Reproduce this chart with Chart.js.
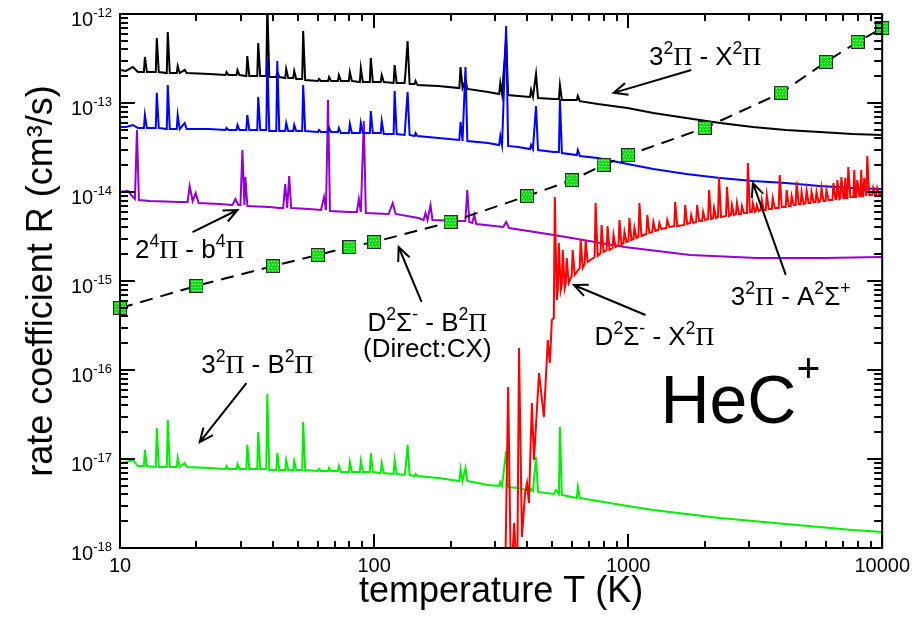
<!DOCTYPE html>
<html>
<head>
<meta charset="utf-8">
<title>HeC+ rate coefficients</title>
<script src="https://cdn.jsdelivr.net/npm/chart.js@4.4.1/dist/chart.umd.min.js"></script>
<style>
  html, body { margin: 0; padding: 0; background: #fff; }
</style>
</head>
<body>
<canvas id="rateChart" width="916" height="622"></canvas>
<script>
// temperature grid (K) shared by the three 3^2Pi curves (same resonance positions)
const tempGrid = [
  10, 10.56, 11.24, 11.76, 12.42, 12.53, 12.76, 13.83, 13.96, 14.21,
  15.28, 15.42, 15.70, 16.72, 16.87, 17.18, 17.97, 18.30, 22.5, 26.01,
  26.25, 26.73, 28.74, 29.0, 29.53, 31.42, 31.7, 32.28, 34.69, 35.0,
  35.64, 37.66, 38.0, 38.69, 41.23, 41.6, 42.36, 44.70, 45.1, 45.92,
  48.06, 48.5, 49.38, 52.13, 52.6, 53.56, 60.15, 60.7, 61.80, 65.90,
  66.5, 67.71, 72.05, 72.7, 74.02, 79.58, 80.3, 81.76, 87.90, 88.7,
  90.31, 96.23, 97.1, 98.87, 106.2, 107.2, 109.2, 119.4, 120.5, 122.7,
  131.9, 133.1, 135.5, 138.0, 144.4, 145.7, 148.3, 179, 216.6, 219,
  223, 229, 232.9, 281, 310.8, 314, 319, 331, 337.1, 369,
  411, 415, 422, 434, 441.8, 510, 520, 534, 539, 548.7,
  628.3, 634, 645.5, 759, 995, 1257, 1693, 2301, 3099, 4172,
  5670, 7636, 10000
];

// 3^2Pi - X^2Pi (black)
const rate3PiX = [
  2.35e-13, 2.29e-13, 2.54e-13, 2.23e-13, 2.23e-13, 3.29e-13, 2.23e-13, 2.23e-13, 5.37e-13, 2.23e-13,
  2.17e-13, 6.28e-13, 2.17e-13, 2.17e-13, 2.60e-13, 2.17e-13, 2.35e-13, 2.17e-13, 2.12e-13, 2.06e-13,
  2.23e-13, 2.06e-13, 2.06e-13, 2.35e-13, 2.06e-13, 2.01e-13, 3.37e-13, 2.01e-13, 2.01e-13, 4.72e-13,
  2.01e-13, 2.01e-13, 1.3e-12, 1.96e-13, 1.96e-13, 2.23e-13, 1.96e-13, 1.91e-13, 2.41e-13, 1.91e-13,
  1.91e-13, 2.29e-13, 1.86e-13, 1.86e-13, 6.44e-13, 1.81e-13, 1.77e-13, 1.86e-13, 1.77e-13, 1.77e-13,
  1.96e-13, 1.77e-13, 1.77e-13, 2.06e-13, 1.77e-13, 1.77e-13, 2.23e-13, 1.77e-13, 1.72e-13, 2.47e-13,
  1.72e-13, 1.72e-13, 3.20e-13, 1.72e-13, 1.72e-13, 2.06e-13, 1.72e-13, 1.68e-13, 2.67e-13, 1.68e-13,
  1.68e-13, 2.29e-13, 4.97e-13, 1.64e-13, 1.64e-13, 1.77e-13, 1.59e-13, 1.55e-13, 1.47e-13, 2.54e-13,
  1.47e-13, 1.81e-13, 1.44e-13, 1.33e-13, 1.26e-13, 1.68e-13, 1.26e-13, 5.37e-13, 1.23e-13, 1.20e-13,
  1.17e-13, 1.40e-13, 1.17e-13, 2.12e-13, 1.14e-13, 1.11e-13, 1.11e-13, 1.11e-13, 1.59e-13, 1.08e-13,
  1.08e-13, 1.20e-13, 1.05e-13, 9.74e-14, 8.79e-14, 7.72e-14, 6.78e-14, 5.96e-14, 5.37e-14, 4.97e-14,
  4.72e-14, 4.48e-14, 4.37e-14
];

// 3^2Pi - A^2Sigma+ (blue)
const rate3PiA = [
  5.37e-14, 5.37e-14, 5.66e-14, 5.24e-14, 5.24e-14, 7.33e-14, 5.24e-14, 5.24e-14, 1.30e-13, 5.24e-14,
  5.10e-14, 1.59e-13, 5.10e-14, 5.10e-14, 7.33e-14, 5.10e-14, 5.96e-14, 5.10e-14, 5.10e-14, 4.97e-14,
  5.24e-14, 4.97e-14, 4.97e-14, 5.66e-14, 4.97e-14, 4.97e-14, 7.33e-14, 4.97e-14, 4.97e-14, 1.17e-13,
  4.97e-14, 4.97e-14, 3.12e-13, 4.84e-14, 4.84e-14, 2.96e-13, 4.84e-14, 4.84e-14, 5.96e-14, 4.84e-14,
  4.84e-14, 5.66e-14, 4.84e-14, 4.84e-14, 1.59e-13, 4.84e-14, 4.72e-14, 4.97e-14, 4.72e-14, 4.72e-14,
  5.24e-14, 4.72e-14, 4.72e-14, 5.24e-14, 4.60e-14, 4.60e-14, 5.81e-14, 4.60e-14, 4.60e-14, 5.96e-14,
  4.60e-14, 4.60e-14, 8.13e-14, 4.60e-14, 4.60e-14, 6.28e-14, 4.48e-14, 4.48e-14, 1.36e-13, 4.48e-14,
  4.37e-14, 6.28e-14, 1.33e-13, 4.37e-14, 4.26e-14, 4.60e-14, 4.26e-14, 4.04e-14, 3.84e-14, 6.12e-14,
  3.74e-14, 2.54e-13, 3.74e-14, 3.55e-14, 3.37e-14, 4.26e-14, 3.37e-14, 7.33e-13, 3.29e-14, 3.20e-14,
  3.04e-14, 3.37e-14, 3.04e-14, 9.25e-14, 2.96e-14, 2.81e-14, 2.81e-14, 2.81e-14, 1.11e-13, 2.74e-14,
  2.60e-14, 2.96e-14, 2.54e-14, 2.41e-14, 2.06e-14, 1.81e-14, 1.59e-14, 1.44e-14, 1.33e-14, 1.26e-14,
  1.17e-14, 1.11e-14, 1.08e-14
];

// 3^2Pi - B^2Pi (green)
const rate3PiB = [
  9.02e-18, 9.25e-18, 9.74e-18, 8.34e-18, 8.34e-18, 1.26e-17, 8.34e-18, 8.13e-18, 2.23e-17, 8.13e-18,
  8.13e-18, 2.74e-17, 8.13e-18, 8.13e-18, 1.03e-17, 8.13e-18, 9.02e-18, 8.13e-18, 7.92e-18, 7.72e-18,
  8.34e-18, 7.72e-18, 7.72e-18, 8.79e-18, 7.72e-18, 7.72e-18, 1.44e-17, 7.72e-18, 7.72e-18, 2.01e-17,
  7.72e-18, 7.72e-18, 5.37e-17, 7.52e-18, 7.52e-18, 1.17e-17, 7.52e-18, 7.52e-18, 9.74e-18, 7.52e-18,
  7.52e-18, 9.49e-18, 7.52e-18, 7.52e-18, 2.60e-17, 7.52e-18, 7.33e-18, 7.72e-18, 7.33e-18, 7.33e-18,
  7.92e-18, 7.33e-18, 7.33e-18, 8.34e-18, 7.14e-18, 7.14e-18, 9.25e-18, 7.14e-18, 7.14e-18, 9.49e-18,
  7.14e-18, 7.14e-18, 1.17e-17, 7.14e-18, 6.96e-18, 9.02e-18, 6.96e-18, 6.78e-18, 9.74e-18, 6.78e-18,
  6.61e-18, 7.92e-18, 1.44e-17, 6.61e-18, 6.44e-18, 6.78e-18, 6.44e-18, 6.12e-18, 5.66e-18, 7.72e-18,
  5.66e-18, 7.92e-18, 5.66e-18, 5.10e-18, 4.97e-18, 5.52e-18, 4.97e-18, 1.23e-17, 4.84e-18, 4.72e-18,
  4.37e-18, 4.60e-18, 4.37e-18, 1.05e-17, 4.26e-18, 4.04e-18, 4.48e-18, 4.04e-18, 2.29e-17, 3.94e-18,
  3.65e-18, 4.84e-18, 3.65e-18, 3.37e-18, 2.96e-18, 2.67e-18, 2.41e-18, 2.17e-18, 2.01e-18, 1.86e-18,
  1.72e-18, 1.59e-18, 1.51e-18
];

// 2^4Pi - b^4Pi (violet)
const tempViolet = [
  10, 10.75, 11.24, 11.45, 11.66, 11.87, 13.11, 17.18, 18.46, 18.8,
  19.32, 19.85, 20.39, 24.65, 27.71, 28.47, 29.25, 29.79, 30.32, 30.88,
  31.15, 31.72, 38.69, 42.34, 43.89, 44.69, 45.51, 46.34, 47.18, 55.5,
  61.83, 63.53, 64.69, 65.87, 67.07, 79.6, 85.56, 87.12, 88.7, 91.14,
  92.8, 114.2, 118.4, 121.6, 149.6, 156.6, 159.4, 162.3, 166.8, 169.8,
  214.7, 228.7, 232.8, 237.1, 243.6, 248, 252.6, 322.2, 331.1, 340,
  510.4, 968, 1755, 3213, 5880, 10000
];
const rateViolet = [
  1.0e-14, 1.03e-14, 8.79e-15, 8.34e-15, 4.97e-14, 8.13e-15, 7.92e-15, 7.72e-15, 7.72e-15, 1.17e-14,
  7.92e-15, 9.74e-15, 7.52e-15, 7.33e-15, 7.14e-15, 8.34e-15, 7.14e-15, 7.14e-15, 2.96e-14, 7.14e-15,
  1.47e-14, 6.96e-15, 6.78e-15, 6.61e-15, 6.61e-15, 1.23e-14, 6.61e-15, 1.51e-14, 6.61e-15, 6.44e-15,
  6.28e-15, 8.79e-15, 6.28e-15, 1.08e-13, 6.12e-15, 5.96e-15, 5.96e-15, 8.34e-15, 5.96e-15, 6.28e-14,
  5.81e-15, 5.66e-15, 7.52e-15, 5.66e-15, 5.10e-15, 4.84e-15, 5.81e-15, 4.84e-15, 7.14e-15, 4.84e-15,
  4.72e-15, 4.72e-15, 1.05e-14, 4.60e-15, 4.48e-15, 5.52e-15, 4.37e-15, 4.04e-15, 4.60e-15, 3.94e-15,
  3.29e-15, 2.41e-15, 1.96e-15, 1.81e-15, 1.81e-15, 1.86e-15
];

// D^2Sigma- - X^2Pi (red); values under 1e-18 run off the bottom of the axis
const tempDX = [
  328, 337, 346, 356, 366, 372, 382, 393, 400, 407,
  418, 426, 446, 458, 466, 483, 492, 501, 509.9, 514.5,
  523.9, 528.6, 533.4, 543.1, 548.0, 553.0, 563.0, 568.1, 573.3, 583.7,
  599.7, 605.1, 616.1, 644.8, 650.6, 662.5, 674.5, 680.6, 693.0, 738.1,
  744.7, 758.3, 779.0, 786.1, 800.5, 822.6, 830.0, 845.1, 868.3, 876.0,
  891.9, 916.5, 924.8, 941.6, 958.8, 967.4, 985.1, 1003, 1012, 1030,
  1049, 1059, 1078, 1098, 1108, 1128, 1180, 1190, 1212, 1245,
  1257, 1280, 1315, 1327, 1351, 1413, 1426, 1452, 1519, 1532,
  1560, 1663, 1678, 1708, 1755, 1771, 1803, 1852, 1869, 1903,
  1955, 1973, 2009, 2064, 2083, 2121, 2159, 2179, 2218, 2259,
  2279, 2321, 2428, 2450, 2494, 2540, 2563, 2609, 2657, 2681,
  2730, 2780, 2805, 2856, 2934, 2961, 3014, 3069, 3097, 3153,
  3182, 3211, 3269, 3329, 3359, 3420, 3482, 3514, 3578, 3676,
  3709, 3776, 3915, 3951, 4023, 4170, 4208, 4284, 4362, 4402,
  4482, 4564, 4605, 4689, 4774, 4817, 4905, 4994, 5039, 5131,
  5224, 5271, 5367, 5465, 5514, 5615, 5717, 5769, 5874, 5981,
  6035, 6145, 6370, 6428, 6545, 6604, 6664, 6785, 6846, 6908,
  7034, 7098, 7162, 7227, 7292, 7358, 7492, 7698, 7767, 7838,
  7909, 7980, 8125, 8199, 8273, 8348, 8424, 8500, 8655, 8733,
  8892, 9136, 9219, 9386, 9471, 9557, 9731, 10000
];
const rateDX = [
  4e-19, 6.44e-17, 4e-19, 1.91e-18, 4e-19, 1.77e-16, 1.33e-18, 4.15e-18, 5.37e-18, 3.20e-18,
  4.26e-17, 9.74e-18, 9.25e-17, 4.60e-17, 2.96e-17, 2.17e-16, 1.20e-16, 3.65e-16, 3.84e-16, 8.79e-15,
  6.12e-16, 7.92e-16, 2.67e-15, 7.92e-16, 9.02e-16, 2.23e-15, 8.34e-16, 9.49e-16, 1.81e-15, 9.49e-16,
  1.14e-15, 2.23e-15, 1.17e-15, 1.40e-15, 2.89e-15, 1.40e-15, 1.55e-15, 2.89e-15, 1.64e-15, 1.86e-15,
  7.52e-15, 1.91e-15, 2.06e-15, 4.26e-15, 2.12e-15, 2.23e-15, 4.15e-15, 2.23e-15, 2.35e-15, 3.29e-15,
  2.41e-15, 2.54e-15, 4.84e-15, 2.54e-15, 2.67e-15, 3.55e-15, 2.74e-15, 2.81e-15, 5.10e-15, 2.89e-15,
  2.96e-15, 3.94e-15, 3.04e-15, 3.12e-15, 7.52e-15, 3.20e-15, 3.37e-15, 5.52e-15, 3.46e-15, 3.55e-15,
  4.60e-15, 3.65e-15, 3.74e-15, 4.48e-15, 3.84e-15, 3.94e-15, 4.84e-15, 4.04e-15, 4.15e-15, 7.72e-15,
  4.15e-15, 4.26e-15, 7.14e-15, 4.37e-15, 4.48e-15, 5.52e-15, 4.48e-15, 4.60e-15, 7.14e-15, 4.72e-15,
  4.72e-15, 5.96e-15, 4.84e-15, 4.97e-15, 1.05e-14, 4.97e-15, 5.10e-15, 6.61e-15, 5.10e-15, 5.24e-15,
  1.47e-14, 5.24e-15, 5.37e-15, 1.14e-14, 5.37e-15, 5.52e-15, 7.14e-15, 5.52e-15, 5.66e-15, 7.52e-15,
  5.66e-15, 5.66e-15, 6.96e-15, 5.81e-15, 5.81e-15, 2.12e-14, 5.96e-15, 5.96e-15, 7.52e-15, 5.96e-15,
  6.12e-15, 7.14e-15, 6.12e-15, 6.28e-15, 8.13e-15, 6.28e-15, 6.28e-15, 9.25e-15, 6.44e-15, 6.44e-15,
  8.56e-15, 6.61e-15, 6.61e-15, 1.55e-14, 6.78e-15, 6.78e-15, 1.05e-14, 6.96e-15, 6.96e-15, 9.02e-15,
  7.14e-15, 7.14e-15, 1.30e-14, 7.33e-15, 7.33e-15, 1.00e-14, 7.33e-15, 7.52e-15, 1.05e-14, 7.52e-15,
  7.52e-15, 1.00e-14, 7.72e-15, 7.72e-15, 1.00e-14, 7.72e-15, 7.92e-15, 1.11e-14, 7.92e-15, 7.92e-15,
  1.05e-14, 8.13e-15, 8.13e-15, 1.26e-14, 8.34e-15, 8.34e-15, 1.36e-14, 8.34e-15, 8.56e-15, 1.47e-14,
  8.56e-15, 8.56e-15, 1.44e-14, 8.56e-15, 8.56e-15, 1.91e-14, 8.79e-15, 8.79e-15, 1.77e-14, 8.79e-15,
  8.79e-15, 1.36e-14, 9.02e-15, 9.02e-15, 1.77e-14, 9.02e-15, 9.02e-15, 1.44e-14, 9.02e-15, 2.54e-14,
  9.25e-15, 9.25e-15, 1.11e-14, 9.25e-15, 9.25e-15, 1.11e-14, 9.49e-15, 9.49e-15
];

// D^2Sigma- - B^2Pi, direct charge transfer (squares, dashed)
const tempCX = [10, 20, 40, 60, 80, 100, 200, 400, 600, 800, 1000, 2000, 4000, 6000, 8000, 10000];
const rateCX = [
  4.97e-16, 8.8e-16, 1.47e-15, 1.96e-15, 2.41e-15, 2.74e-15, 4.6e-15, 9.0e-15,
  1.36e-14, 2.01e-14, 2.6e-14, 5.24e-14, 1.3e-13, 2.89e-13, 4.85e-13, 6.96e-13
];

const xTickValues = [10, 100, 1000, 10000];
const yTickExponents = [-18, -17, -16, -15, -14, -13, -12];

// text labels and arrows, placed in data coordinates (T, R)
const labels = [
  { text: '3^2Π - X^2Π', at: [2010, 2.67e-13], from: [1772, 2.35e-13], to: [877, 1.30e-13] },
  { text: '3^2Π - A^2Σ^+', at: [4365, 5.37e-16], from: [4173, 1.17e-15], to: [3099, 1.26e-14] },
  { text: '2^4Π - b^4Π', at: [18.8, 1.81e-15], from: [19.3, 3.55e-15], to: [29.0, 6.28e-15] },
  { text: 'D^2Σ^- - B^2Π', at: [162, 2.74e-16], from: [153.8, 5.81e-16], to: [124.9, 2.41e-15] },
  { text: '(Direct:CX)', at: [162, 1.40e-16] },
  { text: 'D^2Σ^- - X^2Π', at: [1269, 1.91e-16], from: [1170, 4.15e-16], to: [611, 9.02e-16] },
  { text: '3^2Π - B^2Π', at: [34.7, 9.25e-17], from: [31.45, 7.14e-17], to: [20.6, 1.55e-17] }
];
const moleculeLabel = { text: 'HeC^+', at: [1340, 2.54e-17] };

const FONT = '"Liberation Sans", Arial, Helvetica, sans-serif';
const SERIF = '"Liberation Serif", "Times New Roman", serif';

// split "3^2Π - X^2Π" into plain / superscript / Pi pieces
function parseRich(str) {
  const segs = [];
  let i = 0;
  while (i < str.length) {
    const ch = str[i];
    if (ch === '^') {
      let sup;
      if (str[i + 1] === '{') {
        const end = str.indexOf('}', i);
        sup = str.slice(i + 2, end);
        i = end + 1;
      } else {
        sup = str[i + 1];
        i += 2;
      }
      segs.push({ text: sup, sup: true });
    } else if (ch === 'Π') {
      segs.push({ text: ch, sup: false, serif: true });
      i += 1;
    } else {
      const last = segs[segs.length - 1];
      if (last && !last.sup && !last.serif) last.text += ch;
      else segs.push({ text: ch, sup: false });
      i += 1;
    }
  }
  return segs;
}

function drawRich(ctx, str, x, y, o) {
  const segs = parseRich(str);
  const fontOf = (s) => (s.sup ? o.size * o.supScale : o.size) + 'px ' + (s.serif ? SERIF : FONT);
  let total = 0;
  segs.forEach((s) => {
    ctx.font = fontOf(s);
    s.w = ctx.measureText(s.text).width;
    total += s.w;
  });
  let cx = x;
  if (o.align === 'center') cx = x - total / 2;
  if (o.align === 'right') cx = x - total;
  ctx.textAlign = 'left';
  ctx.textBaseline = 'alphabetic';
  segs.forEach((s) => {
    ctx.font = fontOf(s);
    ctx.fillText(s.text, cx, s.sup ? y - o.size * o.supRise : y);
    cx += s.w;
  });
}

function drawArrow(ctx, x0, y0, x1, y1) {
  const ang = Math.atan2(y1 - y0, x1 - x0);
  const head = 15;
  const spread = 0.42;
  ctx.beginPath();
  ctx.moveTo(x0, y0);
  ctx.lineTo(x1, y1);
  ctx.moveTo(x1 - head * Math.cos(ang - spread), y1 - head * Math.sin(ang - spread));
  ctx.lineTo(x1, y1);
  ctx.lineTo(x1 - head * Math.cos(ang + spread), y1 - head * Math.sin(ang + spread));
  ctx.stroke();
}

// green stippled square used for the CX points
function makeSquare() {
  const c = document.createElement('canvas');
  c.width = 14;
  c.height = 14;
  const g = c.getContext('2d');
  g.fillStyle = '#14dc14';
  g.fillRect(0, 0, 14, 14);
  g.fillStyle = '#c8ffc8';
  for (let i = 2; i < 13; i += 3) {
    for (let j = 2; j < 13; j += 3) g.fillRect(i + (j % 2), j, 1, 1);
  }
  g.strokeStyle = '#2a2a2a';
  g.lineWidth = 1;
  g.strokeRect(0.5, 0.5, 13, 13);
  return c;
}

const framePlugin = {
  id: 'frame',
  afterDraw(chart) {
    const { ctx, chartArea: a } = chart;
    const xs = chart.scales.x;
    const ys = chart.scales.y;
    ctx.save();
    ctx.strokeStyle = '#000';
    ctx.fillStyle = '#000';
    ctx.lineWidth = 2;
    ctx.lineCap = 'butt';

    // inward ticks on all four sides
    ctx.beginPath();
    for (let d = 10; d <= 10000; d *= 10) {
      for (let m = 1; m <= 9; m++) {
        const v = m * d;
        if (v > 10000) break;
        const len = m === 1 ? 14 : 7;
        const px = Math.round(xs.getPixelForValue(v));
        ctx.moveTo(px, a.bottom); ctx.lineTo(px, a.bottom - len);
        ctx.moveTo(px, a.top); ctx.lineTo(px, a.top + len);
      }
    }
    yTickExponents.forEach((e) => {
      for (let m = 1; m <= 9; m++) {
        if (e === -12 && m > 1) break;
        const v = m * Math.pow(10, e);
        const len = m === 1 ? 15 : 8;
        const py = Math.round(ys.getPixelForValue(v));
        ctx.moveTo(a.left, py); ctx.lineTo(a.left + len, py);
        ctx.moveTo(a.right, py); ctx.lineTo(a.right - len, py);
      }
    });
    ctx.stroke();
    ctx.strokeRect(a.left, a.top, a.right - a.left, a.bottom - a.top);

    // y tick labels as 10 with a raised exponent
    yTickExponents.forEach((e) => {
      const py = ys.getPixelForValue(Math.pow(10, e));
      drawRich(ctx, '10^{' + e + '}', a.left - 8, py + 11.5, { size: 20, align: 'right', supScale: 0.65, supRise: 0.43 });
    });

    // curve labels with arrows
    labels.forEach((lb) => {
      drawRich(ctx, lb.text, xs.getPixelForValue(lb.at[0]), ys.getPixelForValue(lb.at[1]),
        { size: 26, align: 'center', supScale: 0.68, supRise: 0.44 });
      if (lb.from) {
        drawArrow(ctx,
          xs.getPixelForValue(lb.from[0]), ys.getPixelForValue(lb.from[1]),
          xs.getPixelForValue(lb.to[0]), ys.getPixelForValue(lb.to[1]));
      }
    });

    drawRich(ctx, moleculeLabel.text, xs.getPixelForValue(moleculeLabel.at[0]), ys.getPixelForValue(moleculeLabel.at[1]),
      { size: 68, align: 'left', supScale: 0.6, supRise: 0.6 });
    ctx.restore();
  }
};

const toPoints = (xs, ys) => xs.map((x, i) => ({ x, y: ys[i] }));

new Chart(document.getElementById('rateChart'), {
  type: 'line',
  data: {
    datasets: [
      {
        label: 'D2Σ- - B2Π (Direct:CX)',
        data: toPoints(tempCX, rateCX),
        borderColor: '#000',
        borderWidth: 2,
        borderDash: [13, 8],
        pointStyle: makeSquare(),
        pointRadius: 7,
        clip: false
      },
      { label: 'D2Σ- - X2Π', data: toPoints(tempDX, rateDX), borderColor: '#ff0000', borderWidth: 2 },
      { label: '32Π - A2Σ+', data: toPoints(tempGrid, rate3PiA), borderColor: '#0000ff', borderWidth: 2 },
      { label: '32Π - X2Π', data: toPoints(tempGrid, rate3PiX), borderColor: '#000000', borderWidth: 2 },
      { label: '24Π - b4Π', data: toPoints(tempViolet, rateViolet), borderColor: '#9400d3', borderWidth: 2 },
      { label: '32Π - B2Π', data: toPoints(tempGrid, rate3PiB), borderColor: '#00ee00', borderWidth: 2 }
    ]
  },
  options: {
    responsive: false,
    animation: false,
    devicePixelRatio: 1,
    layout: { padding: { top: 14, right: 30, left: 0, bottom: 0 } },
    elements: { point: { radius: 0 }, line: { tension: 0 } },
    plugins: { legend: { display: false }, tooltip: { enabled: false } },
    scales: {
      x: {
        type: 'logarithmic',
        min: 10,
        max: 10000,
        afterBuildTicks: (s) => { s.ticks = xTickValues.map((v) => ({ value: v })); },
        afterFit: (s) => { s.height = 74; },
        grid: { display: false, drawTicks: false },
        border: { display: false },
        ticks: {
          color: '#000',
          font: { family: FONT, size: 20 },
          padding: 6,
          maxRotation: 0,
          autoSkip: false,
          callback: (v) => String(v)
        },
        title: {
          display: true,
          text: 'temperature T (K)',
          color: '#000',
          font: { family: FONT, size: 36 },
          padding: { top: 0, bottom: 8 }
        }
      },
      y: {
        type: 'logarithmic',
        min: 1e-18,
        max: 1e-12,
        afterFit: (s) => { s.width = 120; },
        grid: { display: false, drawTicks: false },
        border: { display: false },
        ticks: { display: false },
        title: {
          display: true,
          text: 'rate coefficient R (cm³/s)',
          color: '#000',
          font: { family: FONT, size: 36 },
          padding: { top: 20, bottom: 0 }
        }
      }
    }
  },
  plugins: [framePlugin]
});
</script>
</body>
</html>
